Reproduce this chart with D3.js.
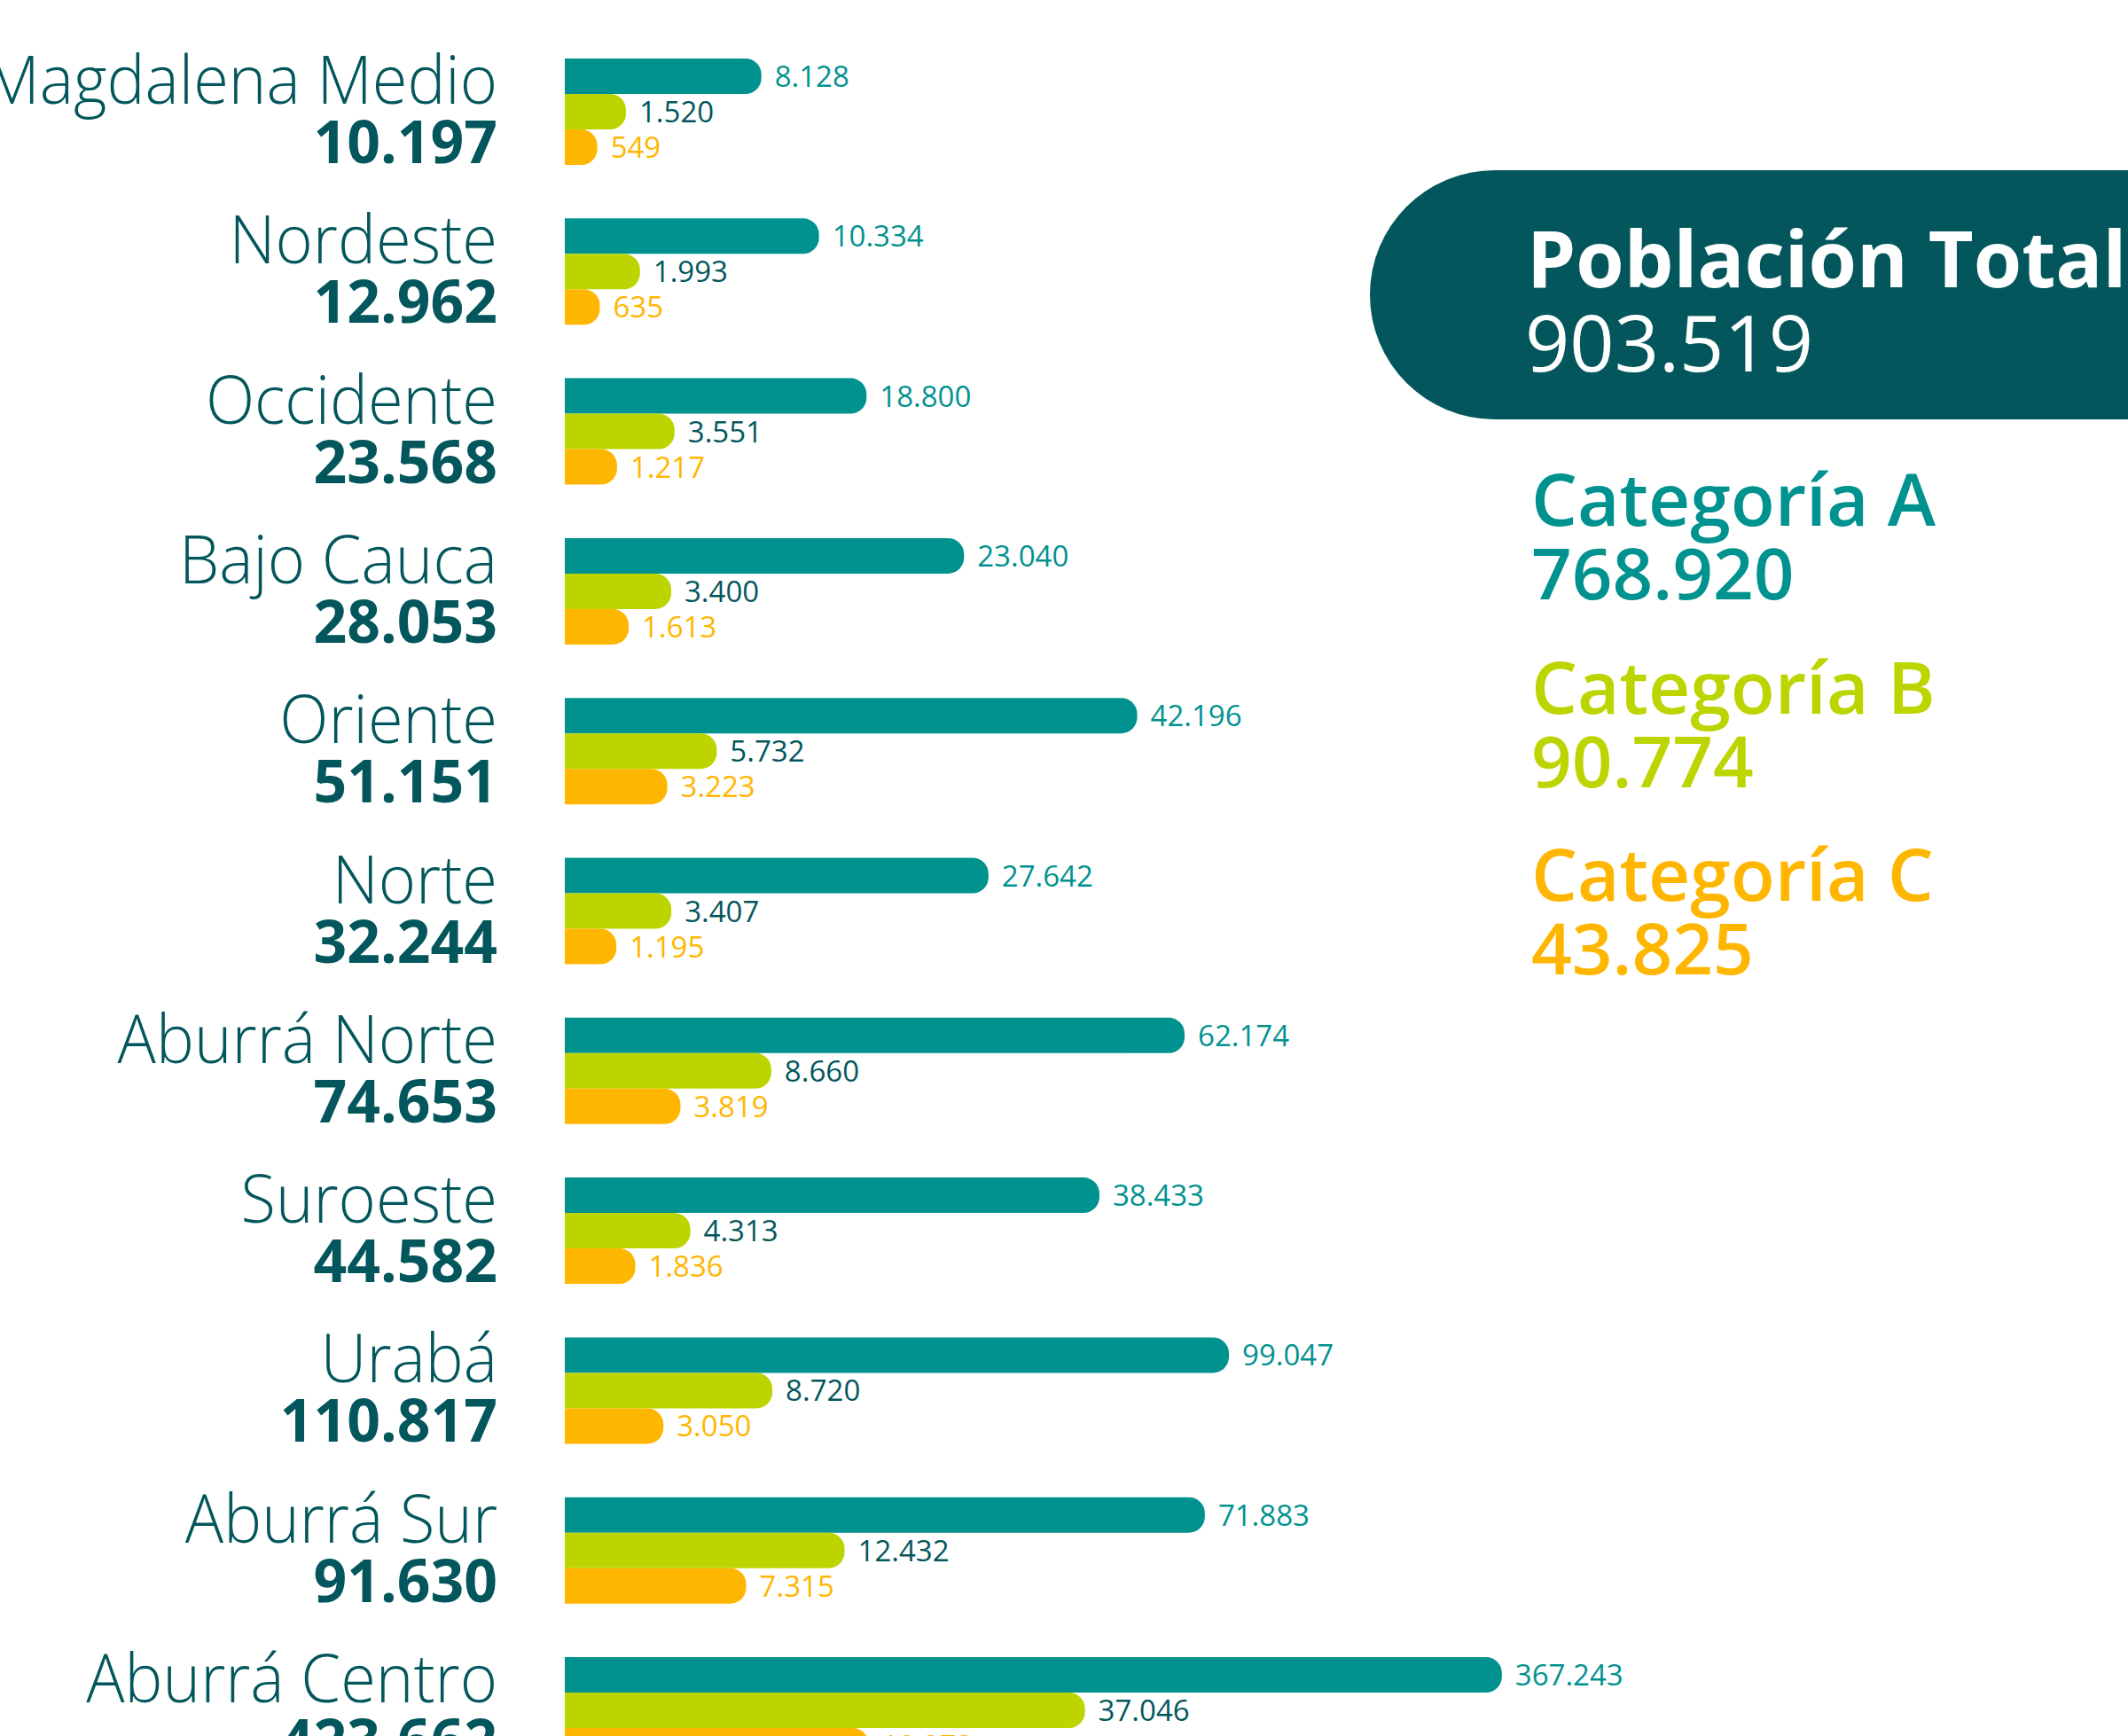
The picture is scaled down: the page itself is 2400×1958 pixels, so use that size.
<!DOCTYPE html>
<html>
<head>
<meta charset="utf-8">
<script src="https://cdn.jsdelivr.net/npm/d3@7"></script>
<style>
  body { margin: 0; background: #fff; overflow: hidden; }
  svg { display: block; }
</style>
</head>
<body>
<script>
// Datos por subregión
var regions = ["Magdalena Medio", "Nordeste", "Occidente", "Bajo Cauca", "Oriente", "Norte",
               "Aburrá Norte", "Suroeste", "Urabá", "Aburrá Sur", "Aburrá Centro"];
var catA = [8128, 10334, 18800, 23040, 42196, 27642, 62174, 38433, 99047, 71883, 367243];
var catB = [1520, 1993, 3551, 3400, 5732, 3407, 8660, 4313, 8720, 12432, 37046];
var catC = [549, 635, 1217, 1613, 3223, 1195, 3819, 1836, 3050, 7315, 19373];
var categories = ["Categoría A", "Categoría B", "Categoría C"];
var totalTitle = "Población Total";

var width = 2400,
    height = 1958;

var colors = ["#00928f", "#bcd500", "#ffb600"],
    labelColors = ["#00928f", "#03575c", "#ffb600"],
    dark = "#03575c";

// formato con punto de miles
var fmt = d3.formatLocale({decimal: ",", thousands: ".", grouping: [3], currency: ["", ""]})
    .format(",d");

var series = [catA, catB, catC];

var svg = d3.select("body")
    .append("svg")
    .attr("width", width)
    .attr("height", height);

// escala de longitud (por tramos, como en la infografía)
var x = d3.scaleLinear()
    .domain([0, 500, 2000, 4000, 9000, 11000, 20000, 23000, 28000, 42000, 70000, 100000, 370000])
    .range([0, 35, 85, 135, 240, 310, 345, 450, 480, 645, 720, 750, 1060]);

var x0 = 637;

var y = d3.scaleBand()
    .domain(regions)
    .range([66, 66 + 180.3 * regions.length]);

var barH = 40;

// barra con esquinas derechas redondeadas
function barPath(x, y, w, h, r) {
    r = Math.min(r, w, h / 2);
    return "M" + x + "," + y +
        "H" + (x + w - r) +
        "A" + r + "," + r + " 0 0 1 " + (x + w) + "," + (y + r) +
        "V" + (y + h - r) +
        "A" + r + "," + r + " 0 0 1 " + (x + w - r) + "," + (y + h) +
        "H" + x + "Z";
}

var groups = svg.append("g")
    .selectAll("g")
    .data(regions)
    .enter().append("g")
        .attr("transform", function(d) { return "translate(0," + y(d) + ")"; });

// nombre de la subregión (algo estrecho, como la tipografía original)
groups.append("text")
    .attr("transform", "translate(561,51) scale(0.95,1)")
    .attr("text-anchor", "end")
    .attr("fill", dark)
    .style("font-family", "'Open Sans', sans-serif")
    .style("font-weight", 300)
    .style("font-size", "76px")
    .text(function(d) { return d; });

// total de la subregión
groups.append("text")
    .attr("x", 561)
    .attr("y", 118)
    .attr("text-anchor", "end")
    .attr("fill", dark)
    .style("font-family", "'Open Sans', sans-serif")
    .style("font-weight", 700)
    .style("font-size", "66px")
    .text(function(d, i) { return fmt(catA[i] + catB[i] + catC[i]); });

// barras
series.forEach(function(s, k) {
    groups.append("path")
        .attr("fill", colors[k])
        .attr("d", function(d, i) { return barPath(x0, k * barH, x(s[i]), barH, 18); });

    groups.append("text")
        .attr("x", function(d, i) { return x0 + x(s[i]) + 15; })
        .attr("y", k * barH + barH / 2 + 12)
        .attr("fill", labelColors[k])
        .style("font-family", "'Open Sans', sans-serif")
        .style("font-weight", 400)
        .style("font-size", "33px")
        .text(function(d, i) { return fmt(s[i]); });
});

// recuadro de población total
var total = d3.sum(catA) + d3.sum(catB) + d3.sum(catC);
var bt = 192, bb = 473, br = (bb - bt) / 2, bl = 1545;

svg.append("path")
    .attr("fill", "#03575c")
    .attr("d", "M" + width + "," + bt + "H" + (bl + br) +
        "A" + br + "," + br + " 0 0 0 " + (bl + br) + "," + bb + "H" + width + "Z");

svg.append("text")
    .attr("x", 1722)
    .attr("y", 324)
    .attr("fill", "#fff")
    .style("font-family", "'Open Sans', sans-serif")
    .style("font-weight", 700)
    .style("font-size", "88px")
    .text(totalTitle);

svg.append("text")
    .attr("x", 1720)
    .attr("y", 419)
    .attr("fill", "#fff")
    .style("font-family", "'Open Sans', sans-serif")
    .style("font-weight", 400)
    .style("font-size", "88px")
    .text(fmt(total));

// leyenda de categorías
var legend = svg.append("g")
    .selectAll("g")
    .data(categories)
    .enter().append("g")
        .attr("transform", function(d, i) { return "translate(1727," + (593 + i * 211.5) + ")"; });

legend.append("text")
    .attr("fill", function(d, i) { return colors[i]; })
    .style("font-family", "'Open Sans', sans-serif")
    .style("font-weight", 600)
    .style("font-size", "82px")
    .text(function(d) { return d; });

legend.append("text")
    .attr("y", 83)
    .attr("fill", function(d, i) { return colors[i]; })
    .style("font-family", "'Open Sans', sans-serif")
    .style("font-weight", 600)
    .style("font-size", "80px")
    .text(function(d, i) { return fmt(d3.sum(series[i])); });
</script>
</body>
</html>
